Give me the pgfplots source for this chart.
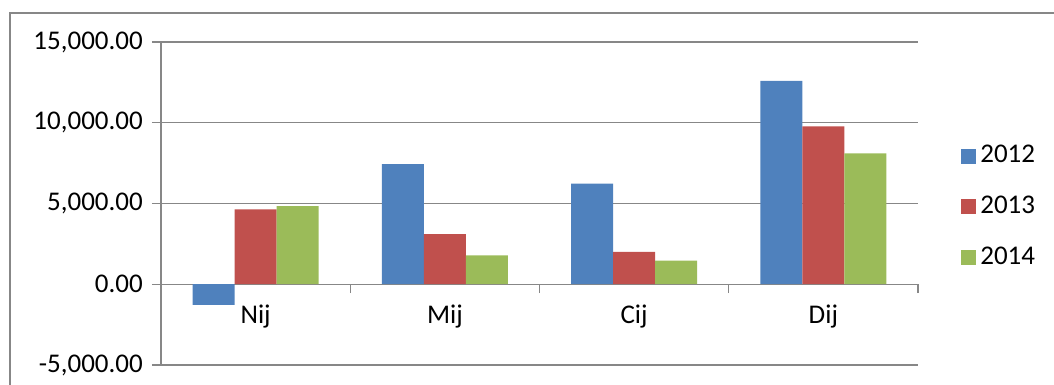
\documentclass[border=0pt]{standalone}
\usepackage{fontspec}
\setmainfont{Carlito}
\usepackage{pgfplots}
\pgfplotsset{compat=1.18}
\definecolor{cA}{HTML}{4F81BD}
\definecolor{cB}{HTML}{C0504D}
\definecolor{cC}{HTML}{9BBB59}
\definecolor{gridc}{HTML}{878787}
\begin{document}
\fontsize{27}{31}\selectfont
\begin{tikzpicture}
\useasboundingbox (0,0) rectangle (1054pt,385pt);
\draw[gridc, line width=1.5pt] (10pt,0) -- (10pt,372pt) -- (1054pt,372pt);
\begin{axis}[
  at={(161pt,20pt)}, anchor=south west,
  scale only axis, width=757pt, height=323pt,
  xmin=0, xmax=4, ymin=-5000, ymax=15000,
  axis y line=left, axis x line=middle,
  axis line style={gridc, line width=1.3pt, -},
  ytick={-5000,0,5000,10000,15000},
  ymajorgrids, grid style={gridc, line width=1.3pt},
  scaled y ticks=false,
  /pgf/number format/assume math mode=true,
  yticklabel style={/pgf/number format/.cd, fixed, fixed zerofill, precision=2, 1000 sep={,}},
  ytick align=outside, major tick length=9pt,
  tick style={gridc, line width=1.3pt},
  xtick={0,1,2,3,4}, xticklabels={},
  xtick align=outside,
  extra x ticks={0.5,1.5,2.5,3.5}, extra x tick labels={Nij,Mij,Cij,Dij},
  extra x tick style={major tick length=0pt, xticklabel style={yshift=-11pt}},
  ybar=0pt, bar width=42pt,
  legend style={at={(1.057,0.49)}, anchor=west, draw=none, fill=none, inner sep=0pt,
    row sep=29pt, nodes={inner xsep=4pt, inner ysep=0pt}},
  legend cell align=left,
  legend image code/.code={\fill[#1,draw=none] (0pt,-7.5pt) rectangle (15pt,7.5pt);},
]
\addplot[fill=cA, draw=none] coordinates {(0.5,-1280) (1.5,7444) (2.5,6235) (3.5,12593)};
\addplot[fill=cB, draw=none] coordinates {(0.5,4630) (1.5,3105) (2.5,2012) (3.5,9772)};
\addplot[fill=cC, draw=none] coordinates {(0.5,4833) (1.5,1790) (2.5,1457) (3.5,8105)};
\legend{2012,2013,2014}
\end{axis}
\end{tikzpicture}
\end{document}
